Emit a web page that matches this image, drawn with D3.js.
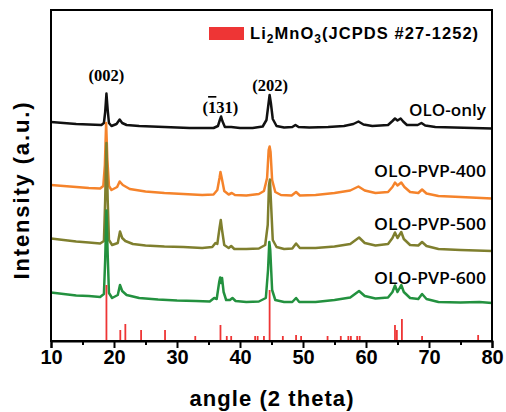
<!DOCTYPE html>
<html><head><meta charset="utf-8">
<script src="https://cdn.jsdelivr.net/npm/d3@7"></script>
<style>body{margin:0;background:#fff}svg{display:block}</style>
</head><body>
<svg id="c" width="506" height="412"></svg>
<script>
// ---- data (intensity in arbitrary units, traces already vertically offset) ----
const xTicks = [10,20,30,40,50,60,70,80];
const xMinorTicks = [15,25,35,45,55,65,75];
const seriesNames = ["OLO-only","OLO-PVP-400","OLO-PVP-500","OLO-PVP-600"];
const seriesColors = ["#111111","#f5832b","#7f7f2e","#23913f"];

const oloOnly = [[10,219],[12,218],[14,217],[16,216.5],[18.0,216],[18.4,218],[18.6,229],[18.8,247.5],[19.0,231],[19.2,218],[19.6,215],[20.4,217],[20.9,221.5],[21.3,218],[22,216],[24,215],[26,214.5],[28,214],[30,213.5],[32,213],[34,213],[35.8,213],[36.5,215],[36.8,221],[37.0,224.5],[37.2,220],[37.6,214],[38.6,214],[40,213],[42,213],[43.6,214.5],[44.2,221],[44.5,236],[44.7,246],[44.9,238],[45.2,222],[45.8,215],[47,213.5],[48.3,214],[48.8,216],[49.3,214],[51,213.5],[54,214],[56.5,215],[58,217],[58.8,219.5],[59.6,216.5],[61,215],[63.5,216],[64.2,220],[64.6,222.5],[65.0,220.5],[65.5,222.5],[65.9,219.5],[66.5,216],[68.2,216],[68.8,218],[69.4,215.5],[71,214],[74,213.5],[77,213],[80,212.5]];

const oloPvp400 = [[10,156],[12,155],[14,154],[16,153],[17.8,152.5],[18.3,155],[18.55,176],[18.75,218],[18.95,181],[19.2,155],[19.6,151],[20.5,154],[20.9,159.5],[21.4,156],[22.5,152],[25,149.5],[28,148],[31,147],[34,146],[35.8,146.5],[36.4,151],[36.75,163],[36.9,169],[37.1,163],[37.5,150],[38.2,146.5],[38.7,148],[39.2,146],[41,145.5],[43,147],[43.8,150],[44.3,163],[44.55,191],[44.7,194.5],[44.85,189],[45.1,161],[45.6,149],[46.5,146],[48.2,145.5],[48.9,149],[49.5,145.5],[52,146],[55,148],[57.5,150.5],[58.8,154.5],[59.8,150.5],[61.5,148],[63.5,149],[64.2,154],[64.6,158.5],[65.0,155.5],[65.6,158.5],[66.1,154],[67,149],[68.3,148],[68.9,151.5],[69.6,147.5],[71.5,145],[75,144],[80,142.5]];

const oloPvp500 = [[10,102.5],[12,101],[14,99.5],[16,98.5],[17.8,97.5],[18.4,100],[18.6,141],[18.8,198],[19.0,141],[19.2,101],[19.7,96],[20.6,98],[20.95,109.5],[21.3,103],[21.8,100],[23,97],[25,95.5],[28,94.5],[31,94],[34,93],[35.6,94],[36.1,98],[36.4,97],[36.75,113],[36.95,121],[37.15,111],[37.5,96],[38.2,93],[38.6,95],[39.1,92],[41,92],[43,92.5],[44.0,96],[44.4,116],[44.6,156],[44.75,161.5],[44.9,141],[45.2,101],[45.8,94],[47,92],[48.3,92.5],[48.9,97.5],[49.5,93],[52,93],[55,94.5],[57.5,97],[58.9,103.5],[59.8,98],[61.5,95.5],[63.5,97],[64.2,103],[64.6,108.5],[65.0,103],[65.6,109],[66.0,102],[67,96],[68.3,95.5],[68.9,99],[69.6,95],[71.5,92],[75,91],[80,90]];

const oloPvp600 = [[10,48.5],[12,47],[14,45.5],[16,45],[17.8,44],[18.4,47],[18.6,81],[18.8,130.5],[19.0,86],[19.2,48],[19.7,43],[20.6,46],[20.95,56],[21.3,50],[22,46],[24,43],[27,41.5],[30,40.5],[33,40],[35.2,39.5],[35.9,43],[36.3,42],[36.7,59],[36.85,63.5],[37.0,58],[37.15,63],[37.4,49],[37.8,41],[38.4,41],[38.8,43],[39.3,40],[41,39],[43,39.5],[44.1,43],[44.45,71],[44.65,99],[44.8,91],[45.1,51],[45.6,41],[47,39],[48.3,39],[48.9,43],[49.4,39],[52,39],[55,41],[57.5,43.5],[58.9,50],[59.8,45],[61.5,42.5],[63.5,43.5],[64.2,49],[64.6,55.5],[65.0,49],[65.6,56],[66.0,49],[67,43],[68.3,42],[68.9,47],[69.6,42],[71.5,39],[75,38.5],[78,39],[80,38]];

// reference pattern Li2MnO3 (JCPDS #27-1252): [2theta, relative height]
const refAngles  = [18.8,21.0,21.8,24.3,28.1,32.9,36.9,37.9,38.6,42.4,42.8,43.8,44.7,46.8,48.9,49.7,53.9,56.0,57.2,57.6,58.6,59.0,64.6,64.9,65.7,68.9,77.8];
const refHeights = [56,11,17,11,11,5,16,5,5,5,5,5,51,5,6,5,5,5,5,5,5,5,16,11,22,5,6];

const hklLabels = [
  {text:"(002)", x:18.8, y:266},
  {text:"(131)", x:36.9, y:234, bar:true},
  {text:"(202)", x:44.8, y:256}
];
const seriesLabelY = [231, 170, 117, 63];
const seriesLabelW = [77, 112, 112, 112];
const legendLabel = "Li2MnO3(JCPDS #27-1252)";

// ---- drawing ----
const svg = d3.select("#c");
const L = 51, R = 492, T = 10, B = 341;
const x = d3.scaleLinear().domain([10,80]).range([L,R]);
const y = d3.scaleLinear().domain([0,331]).range([B,T]);

// traces
const all = [oloOnly, oloPvp400, oloPvp500, oloPvp600];
const line = d3.line().x(d=>x(d[0])).y(d=>y(d[1]));
all.forEach((s,i)=>{
  svg.append("path").attr("d", line(s)).attr("fill","none")
    .attr("stroke", seriesColors[i]).attr("stroke-width",2.5)
    .attr("stroke-linejoin","round");
});

// reference bars
svg.append("g").selectAll("line").data(refAngles).join("line")
  .attr("x1", d=>x(d)).attr("x2", d=>x(d))
  .attr("y1", y(0)).attr("y2",(d,i)=>y(refHeights[i]))
  .attr("stroke","#ee3535").attr("stroke-width",1.8);

// frame
svg.append("rect").attr("x",L).attr("y",T).attr("width",R-L).attr("height",B-T)
  .attr("fill","none").attr("stroke","#000").attr("stroke-width",2);

// x axis
const ax = svg.append("g").attr("transform",`translate(0,${B})`)
  .call(d3.axisBottom(x).tickValues(xTicks).tickSize(7).tickPadding(2).tickFormat(d3.format("d")));
ax.select(".domain").attr("stroke-width",2);
ax.selectAll(".tick line").attr("stroke-width",2);
ax.selectAll("text").attr("font-family","Liberation Sans, Arial, sans-serif")
  .attr("font-weight","bold").attr("font-size",20).attr("fill","#000");
const axm = svg.append("g").attr("transform",`translate(0,${B})`)
  .call(d3.axisBottom(x).tickValues(xMinorTicks).tickSize(4).tickFormat(""));
axm.select(".domain").remove();
axm.selectAll(".tick line").attr("stroke-width",2);

// axis titles
svg.append("text").attr("x",(L+R)/2).attr("y",406)
  .attr("text-anchor","middle").attr("font-family","Liberation Sans, Arial, sans-serif")
  .attr("font-weight","bold").attr("font-size",22)
  .attr("textLength",164).text("angle (2 theta)");
svg.append("text").attr("transform","translate(29,191) rotate(-90)")
  .attr("text-anchor","middle").attr("font-family","Liberation Sans, Arial, sans-serif")
  .attr("font-weight","bold").attr("font-size",22)
  .attr("textLength",177).text("Intensity (a.u.)");

// series labels
seriesNames.forEach((n,i)=>{
  svg.append("text").attr("x",486).attr("y",y(seriesLabelY[i]))
    .attr("text-anchor","end").attr("dominant-baseline","central")
    .attr("font-family","Open Sans, sans-serif").attr("font-weight",600)
    .attr("font-size",16).attr("textLength",seriesLabelW[i])
    .attr("lengthAdjust","spacingAndGlyphs").text(n);
});

// hkl labels
hklLabels.forEach(h=>{
  const t = svg.append("text").attr("x",x(h.x)).attr("y",y(h.y))
    .attr("text-anchor","middle").attr("dominant-baseline","central")
    .attr("font-family","Liberation Serif, serif").attr("font-weight","bold")
    .attr("font-size",16.5);
  if (h.bar) {
    t.append("tspan").text("(");
    t.append("tspan").style("text-decoration","overline").text("1");
    t.append("tspan").text("31)");
  } else t.text(h.text);
});

// legend
svg.append("rect").attr("x",209).attr("y",27).attr("width",35).attr("height",13).attr("fill","#ee3535");
const lg = svg.append("text").attr("x",250).attr("y",39)
  .attr("font-family","Liberation Sans, Arial, sans-serif").attr("font-weight","bold")
  .attr("font-size",16.5).attr("letter-spacing",1.05);
const parts = legendLabel.match(/Li|2|MnO|3|\(.*\)/g);
parts.forEach(p=>{
  if (p==="2"||p==="3") lg.append("tspan").attr("font-size",12).attr("dy",4).text(p);
  else lg.append("tspan").attr("dy", (p==="MnO"||p[0]==="(")?-4:0).text(p);
});
</script>
</body></html>
